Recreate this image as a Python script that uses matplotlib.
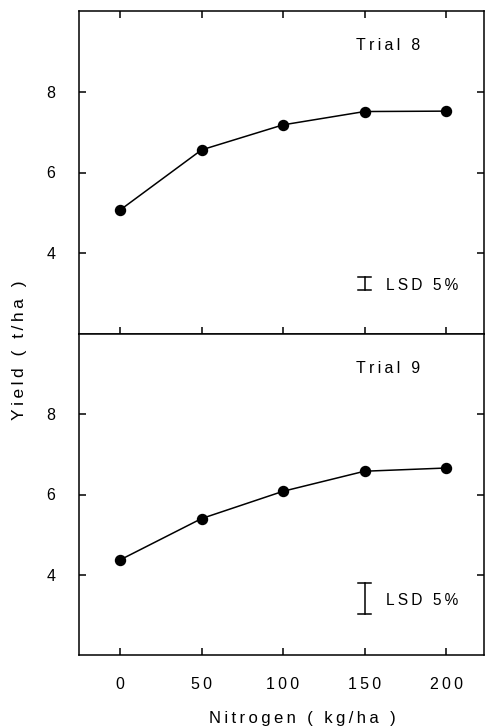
import matplotlib
matplotlib.use('Agg')
import matplotlib.pyplot as plt

plt.rcParams['font.family'] = ['Liberation Sans', 'DejaVu Sans']

# nitrogen rate (kg/ha) and yield (t/ha)
nitrogen = [0, 50, 100, 150, 200]
yield_trial8 = [5.07, 6.56, 7.18, 7.51, 7.52]
yield_trial9 = [4.37, 5.40, 6.08, 6.58, 6.66]

# LSD 5% bars: (x, low, high)
lsd_trial8 = (150, 3.09, 3.41)
lsd_trial9 = (150, 3.01, 3.80)

panel_titles = ['Trial 8', 'Trial 9']
yticks = [4, 6, 8]
xticks = [0, 50, 100, 150, 200]


def track(s):
    # wide letter spacing like the typewriter-ish original
    return '\u2009'.join(s)


fig = plt.figure(figsize=(4.87, 7.28), dpi=100)
W, H = 487, 728
left, right, top, mid, bottom = 79, 484, 11, 334, 655
ax1 = fig.add_axes([left / W, 1 - mid / H, (right - left) / W, (mid - top) / H])
ax2 = fig.add_axes([left / W, 1 - bottom / H, (right - left) / W, (bottom - mid) / H])

for ax, yv, lsd, title in [(ax1, yield_trial8, lsd_trial8, panel_titles[0]),
                           (ax2, yield_trial9, lsd_trial9, panel_titles[1])]:
    ax.plot(nitrogen, yv, color='black', lw=1.1, marker='o', ms=7.2)
    ax.set_xlim(-25.2, 223.3)
    ax.set_ylim(2, 10)
    ax.set_yticks(yticks)
    ax.set_yticklabels([str(t) for t in yticks])
    ax.set_xticks(xticks)
    ax.set_xticklabels([track(str(t)) for t in xticks])
    ax.tick_params(direction='in', length=5, width=1.1, labelsize=11.5,
                   left=True, right=True)
    ax.tick_params(axis='y', pad=17)
    ax.tick_params(axis='x', pad=16)
    for s in ax.spines.values():
        s.set_linewidth(1.1)
    # LSD bar
    x, lo, hi = lsd
    ax.plot([x, x], [lo, hi], color='black', lw=1.1)
    ax.plot([x - 4, x + 4], [lo, lo], color='black', lw=1.1)
    ax.plot([x - 4, x + 4], [hi, hi], color='black', lw=1.1)
    ax.text(x + 13, (lo + hi) / 2 - 0.05, track('LSD 5%'), fontsize=11.2,
            va='center', ha='left')
    ax.text(145, 9.15, track(title), fontsize=11.5, va='center', ha='left')

ax1.tick_params(top=True, bottom=True, labelbottom=False)
ax2.tick_params(top=False, bottom=True)

fig.text(302 / W, 1 - 719 / H, track('Nitrogen ( kg/ha )'), fontsize=12,
         ha='center', va='center')
fig.text(20 / W, 1 - 350 / H, track('Yield ( t/ha )'), fontsize=12.5,
         ha='center', va='center', rotation=90)

fig.savefig('out.png', dpi=100)
